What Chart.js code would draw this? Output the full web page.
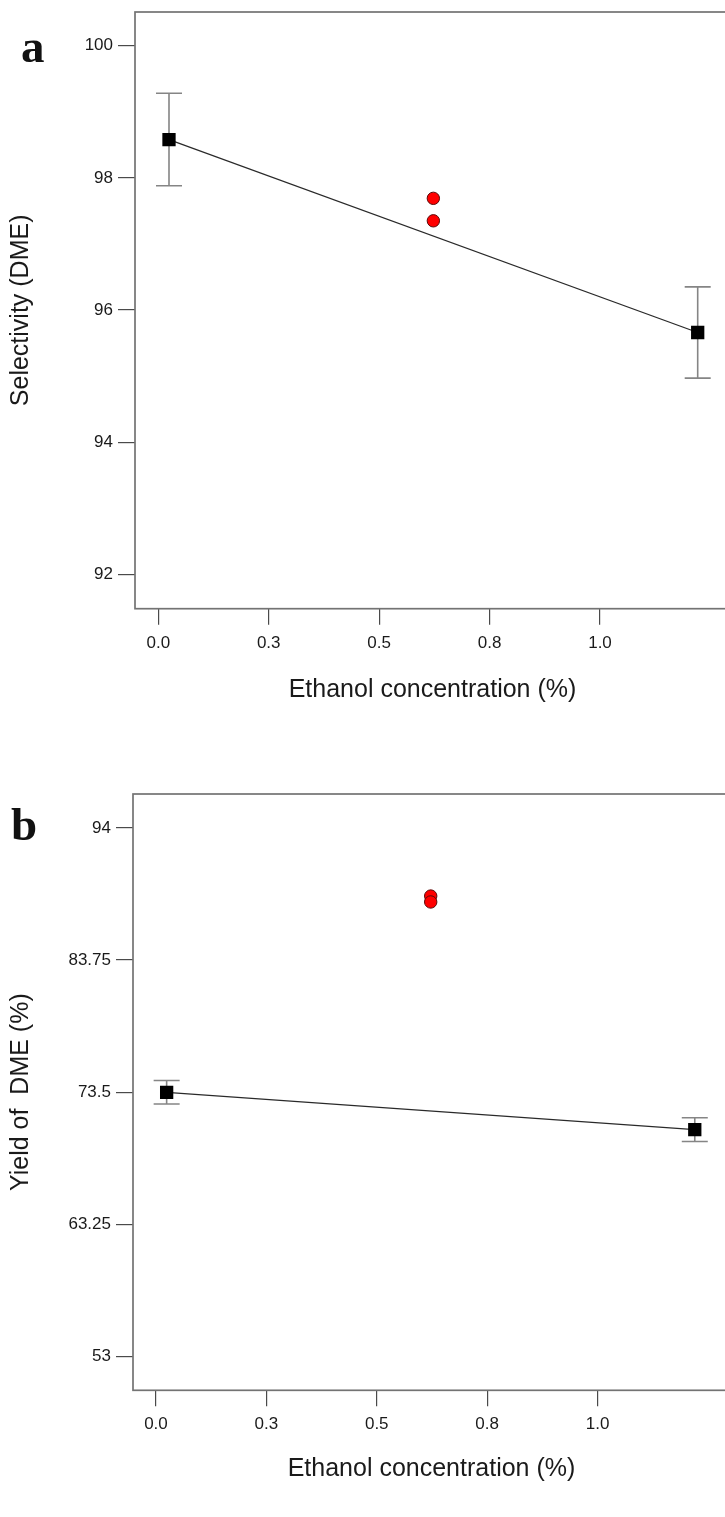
<!DOCTYPE html>
<html>
<head>
<meta charset="utf-8">
<script src="https://cdn.jsdelivr.net/npm/chart.js@4.4.1/dist/chart.umd.min.js"></script>
<style>
  html, body { margin: 0; padding: 0; background: #fff; overflow: hidden; }
  #page { position: relative; width: 725px; height: 1517px; overflow: hidden; }
  .panel { position: absolute; left: 0; }
  .letter { position: absolute; font-family: 'Liberation Serif', 'Times New Roman', serif; font-weight: bold; font-size: 47px; color: #111; line-height: 1; }
</style>
</head>
<body>
<div id="page">
  <div class="panel" style="top:0"><canvas id="chart-a" width="760" height="760"></canvas></div>
  <div class="panel" style="top:760px"><canvas id="chart-b" width="760" height="757"></canvas></div>
  <div class="letter" style="left:21px; top:23px">a</div>
  <div class="letter" style="left:11px; top:801px">b</div>
</div>
<script>
'use strict';

// ***** DATA *****
const ethanolLevels = [0, 1];
const centerLevels = [0.5, 0.5];

const selectivityMean = [98.58, 95.66];
const selectivityErr = [0.70, 0.69];
const selectivityCenter = [97.69, 97.35];

const yieldMean = [73.49, 70.59];
const yieldErr = [0.91, 0.92];
const yieldCenter = [88.72, 88.26];

const xTickValues = [0, 0.25, 0.5, 0.75, 1];
const xTickLabels = ['0.0', '0.3', '0.5', '0.8', '1.0'];
const selectivityTicks = [92, 94, 96, 98, 100];
const selectivityTickLabels = ['92', '94', '96', '98', '100'];
const yieldTicks = [53, 63.25, 73.5, 83.75, 94];
const yieldTickLabels = ['53', '63.25', '73.5', '83.75', '94'];

// ***** STYLE *****
const FONT = "'Liberation Sans', Arial, sans-serif";
const AXIS_GREY = '#737373';
const TICK_GREY = '#4a4a4a';

function toPoints(xs, ys) {
  return xs.map((x, i) => ({ x: x, y: ys[i] }));
}

// error bars drawn under the squares, through the chart scales
function makeErrorBars(levels, means, errors) {
  return {
    id: 'errorBars',
    beforeDatasetsDraw(chart) {
      const ctx = chart.ctx;
      const xs = chart.scales.xd;
      const ys = chart.scales.y;
      ctx.save();
      ctx.strokeStyle = '#858585';
      ctx.lineWidth = 1.6;
      for (let i = 0; i < means.length; i++) {
        const px = xs.getPixelForValue(levels[i]);
        const top = ys.getPixelForValue(means[i] + errors[i]);
        const bot = ys.getPixelForValue(means[i] - errors[i]);
        ctx.beginPath();
        ctx.moveTo(px, top); ctx.lineTo(px, bot);
        ctx.moveTo(px - 13, top); ctx.lineTo(px + 13, top);
        ctx.moveTo(px - 13, bot); ctx.lineTo(px + 13, bot);
        ctx.stroke();
      }
      ctx.restore();
    }
  };
}

// box round the plot area
const framePlugin = {
  id: 'frame',
  afterDraw(chart) {
    const { ctx, chartArea } = chart;
    ctx.save();
    ctx.strokeStyle = AXIS_GREY;
    ctx.lineWidth = 1.7;
    ctx.strokeRect(chartArea.left, chartArea.top, chartArea.right - chartArea.left, chartArea.bottom - chartArea.top);
    ctx.restore();
  }
};

function buildChart(canvasId, cfg) {
  const ctx = document.getElementById(canvasId).getContext('2d');
  return new Chart(ctx, { //eslint-disable-line
    type: 'line',
    data: {
      datasets: [{
        data: toPoints(ethanolLevels, cfg.means),
        xAxisID: 'xd',
        yAxisID: 'y',
        borderColor: '#2a2a2a',
        borderWidth: 1.3,
        pointStyle: 'rect',
        pointRadius: 9.4,
        pointBorderWidth: 0,
        pointBackgroundColor: '#000',
        tension: 0
      },
      {
        data: toPoints(centerLevels, cfg.center),
        xAxisID: 'xd',
        yAxisID: 'y',
        showLine: false,
        pointStyle: 'circle',
        pointRadius: 6.2,
        pointBorderWidth: 1,
        pointBackgroundColor: '#ff0000',
        pointBorderColor: '#5a0a0a'
      }]
    },
    options: {
      responsive: false,
      animation: false,
      devicePixelRatio: 1,
      layout: { padding: { top: cfg.top, right: 30, left: 0, bottom: 0 } },
      plugins: { legend: { display: false }, tooltip: { enabled: false } },
      scales: {
        x: {
          type: 'linear',
          position: 'bottom',
          min: cfg.xMin,
          max: cfg.xMax,
          afterBuildTicks: (scale) => { scale.ticks = xTickValues.map(v => ({ value: v })); },
          afterFit: (scale) => { scale.height = cfg.xHeight; },
          ticks: {
            color: '#1a1a1a',
            font: { family: FONT, size: 17 },
            padding: 8,
            maxRotation: 0,
            callback: (v, i) => xTickLabels[i]
          },
          grid: { drawOnChartArea: false, drawTicks: true, tickLength: 16, color: TICK_GREY, lineWidth: 1.2 },
          border: { display: false },
          title: {
            display: true,
            text: 'Ethanol concentration (%)',
            color: '#1a1a1a',
            font: { family: FONT, size: 25 },
            padding: { top: 0, bottom: cfg.xTitlePad }
          }
        },
        xd: {
          type: 'linear',
          display: false,
          min: cfg.dMin,
          max: cfg.dMax
        },
        y: {
          type: 'linear',
          position: 'left',
          min: cfg.yMin,
          max: cfg.yMax,
          afterBuildTicks: (scale) => { scale.ticks = cfg.yTicks.map(v => ({ value: v })); },
          afterFit: (scale) => {
            scale.width = cfg.left;
            scale.paddingTop = 0;
            scale.paddingBottom = 0;
          },
          ticks: {
            color: '#1a1a1a',
            font: { family: FONT, size: 17 },
            padding: 5,
            callback: (v, i) => cfg.yLabels[i]
          },
          grid: { drawOnChartArea: false, drawTicks: true, tickLength: 17, color: TICK_GREY, lineWidth: 1.2 },
          border: { display: false },
          title: {
            display: true,
            text: cfg.yTitle,
            color: '#1a1a1a',
            font: { family: FONT, size: 25 },
            padding: { top: 6, bottom: 0 }
          }
        }
      }
    },
    plugins: [makeErrorBars(ethanolLevels, cfg.means, cfg.errors), framePlugin]
  });
}

// ****** PANEL a ******
buildChart('chart-a', {
  means: selectivityMean,
  errors: selectivityErr,
  center: selectivityCenter,
  yTicks: selectivityTicks,
  yLabels: selectivityTickLabels,
  yTitle: 'Selectivity (DME)',
  yMin: 91.48, yMax: 100.51,
  xMin: -0.0527, xMax: 1.2943,
  dMin: -0.0643, dMax: 1.0611,
  top: 12, left: 135, xHeight: 151.3, xTitlePad: 55
});

// ****** PANEL b ******
buildChart('chart-b', {
  means: yieldMean,
  errors: yieldErr,
  center: yieldCenter,
  yTicks: yieldTicks,
  yLabels: yieldTickLabels,
  yTitle: 'Yield of  DME (%)',
  yMin: 50.36, yMax: 96.64,
  xMin: -0.052, xMax: 1.300,
  dMin: -0.0637, dMax: 1.0667,
  top: 34, left: 133, xHeight: 126.7, xTitlePad: 33
});
</script>
</body>
</html>
